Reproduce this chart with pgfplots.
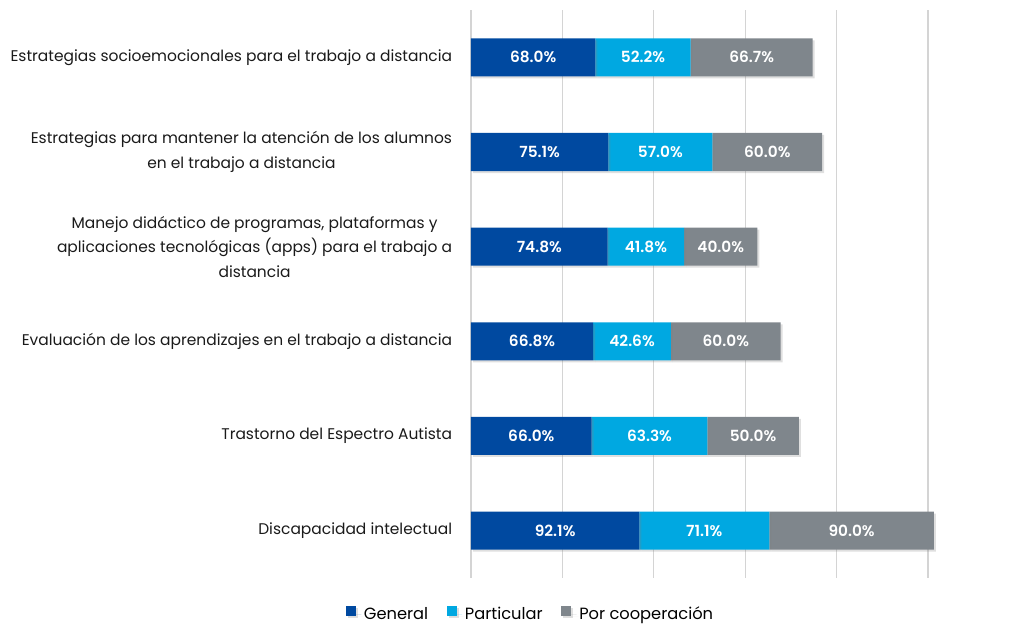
\documentclass[border=0pt]{standalone}
\usepackage{pgfplots}
\pgfplotsset{compat=1.18}
\usepackage{pgfplotstable}
\usetikzlibrary{shadows}
\usepackage{fontspec}
\setmainfont{Poppins}
\newfontfamily\semfont{Poppins SemiBold}
\definecolor{cgen}{HTML}{0049A0}
\definecolor{cpar}{HTML}{00A8E1}
\definecolor{ccoop}{HTML}{7F868C}
\definecolor{cgrid}{HTML}{D4D4D4}
\definecolor{ctext}{HTML}{1A1A1A}

\pgfplotstableread{
y gen par coop
0 92.1 71.1 90.0
1 66.0 63.3 50.0
2 66.8 42.6 60.0
3 74.8 41.8 40.0
4 75.1 57.0 60.0
5 68.0 52.2 66.7
}\datos

\begin{document}
\begin{tikzpicture}
\path[use as bounding box] (-353.25pt,-35.25pt) rectangle (405pt,433.5pt);
\begin{axis}[
  at={(0,0)}, anchor=south west,
  scale only axis, width=342.75pt, height=426pt,
  xbar stacked, bar width=28.5pt, clip=false,
  xmin=0, xmax=250, ymin=-0.5, ymax=5.5,
  xtick={0,50,...,250}, xticklabels={},
  xmajorgrids, grid style={cgrid, line width=0.8pt},
  axis line style={draw=none}, major tick length=0pt,
  ytick={0,...,5},
  yticklabels={
    {Discapacidad intelectual},
    {Trastorno del Espectro Autista},
    {Evaluación de los aprendizajes en el trabajo a distancia},
    {Manejo didáctico de programas, plataformas y\\aplicaciones tecnológicas (apps) para el trabajo a\\distancia},
    {Estrategias para mantener la atención de los alumnos\\en el trabajo a distancia},
    {Estrategias socioemocionales para el trabajo a distancia}},
  yticklabel style={align=center, anchor=east, inner sep=0pt, xshift=-14pt,
    font=\fontsize{11.6}{18.4}\selectfont, text=ctext},
  point meta=explicit,
  nodes near coords={\pgfmathprintnumber[assume math mode=true,fixed,fixed zerofill,precision=1]{\pgfplotspointmeta}\%},
  every node near coord/.append style={font=\semfont\fontsize{11.5}{13}\selectfont,
    text=white, anchor=center},
  legend style={at={(0.131,-0.064)}, anchor=center, draw=none, fill=none,
    legend columns=3, font=\fontsize{12.2}{14}\selectfont,
    /tikz/every even column/.append style={column sep=12pt}},
  legend image code/.code={\path (0pt,0pt) -- (11.5pt,0pt);
    \fill[#1] (0pt,-1.5pt) rectangle (7.5pt,6pt);},
]
\addplot[draw=none, fill=cgen, drop shadow={opacity=0.25, shadow xshift=1.5pt, shadow yshift=-1.5pt}]
  table[x=gen, y=y, meta=gen] {\datos};
\addlegendentry{General}
\addplot[draw=none, fill=cpar, drop shadow={opacity=0.25, shadow xshift=1.5pt, shadow yshift=-1.5pt}]
  table[x=par, y=y, meta=par] {\datos};
\addlegendentry{Particular}
\addplot[draw=none, fill=ccoop, drop shadow={opacity=0.25, shadow xshift=1.5pt, shadow yshift=-1.5pt}]
  table[x=coop, y=y, meta=coop] {\datos};
\addlegendentry{Por cooperación}
\end{axis}
\end{tikzpicture}
\end{document}
